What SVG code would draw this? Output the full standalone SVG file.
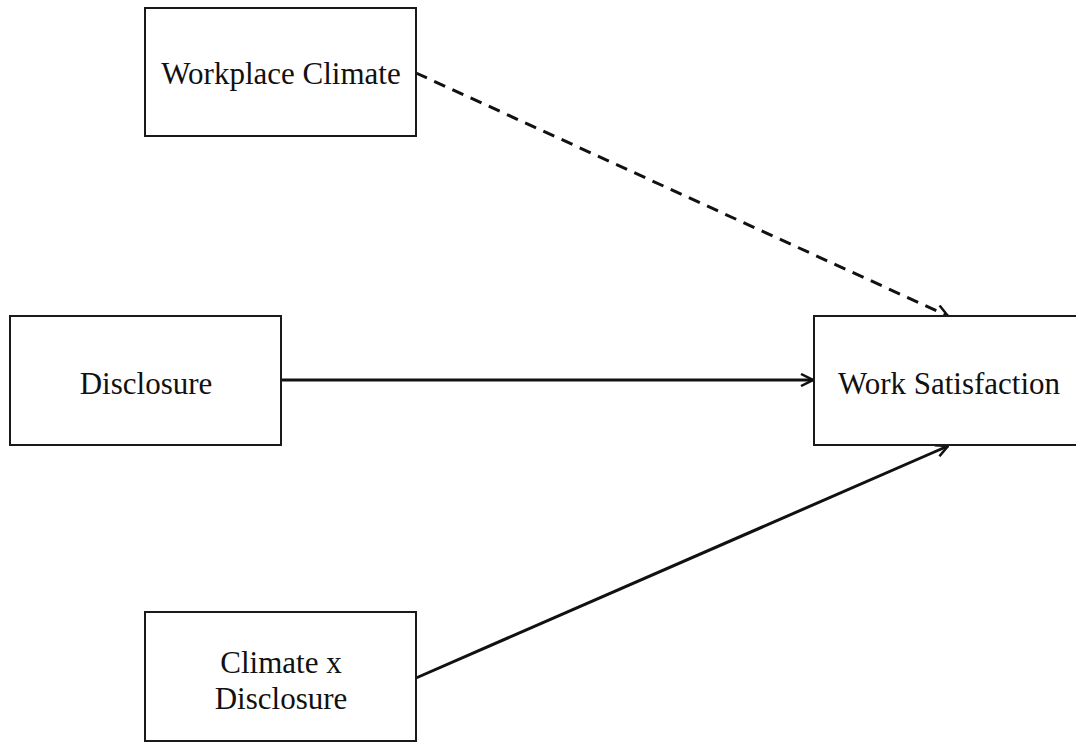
<svg xmlns="http://www.w3.org/2000/svg" width="1076" height="742" viewBox="0 0 1076 742">
<defs>
<style>
.box{fill:#fff;stroke:#1a1a1a;stroke-width:2}
.lbl{font-family:"Liberation Serif","Times New Roman",serif;font-size:31px;fill:#111;text-anchor:middle}
.edge{stroke:#111;stroke-width:3;fill:none}
</style>
<marker id="arr" viewBox="0 0 14 14" refX="13" refY="7" markerWidth="14" markerHeight="14" markerUnits="userSpaceOnUse" orient="auto">
<path d="M1,1 L13,7 L1,13" fill="none" stroke="#111" stroke-width="2.5"/>
</marker>
</defs>
<rect width="1076" height="742" fill="#fff"/>
<g id="connectors">
<path class="edge" d="M416,73 L948,316" stroke-dasharray="12,8" marker-end="url(#arr)"/>
<path class="edge" d="M281,380 L813,380" marker-end="url(#arr)"/>
<path class="edge" d="M416,678 L948,446" marker-end="url(#arr)"/>
</g>
<g id="workplace-climate">
<rect class="box" x="145" y="8" width="271" height="128"/>
<text class="lbl" x="281" y="84">Workplace Climate</text>
</g>
<g id="disclosure">
<rect class="box" x="10" y="316" width="271" height="129"/>
<text class="lbl" x="146" y="394">Disclosure</text>
</g>
<g id="work-satisfaction">
<rect class="box" x="814" y="316" width="270" height="129"/>
<text class="lbl" x="949" y="394">Work Satisfaction</text>
</g>
<g id="climate-x-disclosure">
<rect class="box" x="145" y="612" width="271" height="129"/>
<text class="lbl" x="281" y="673">Climate x</text>
<text class="lbl" x="281" y="709">Disclosure</text>
</g>
</svg>
